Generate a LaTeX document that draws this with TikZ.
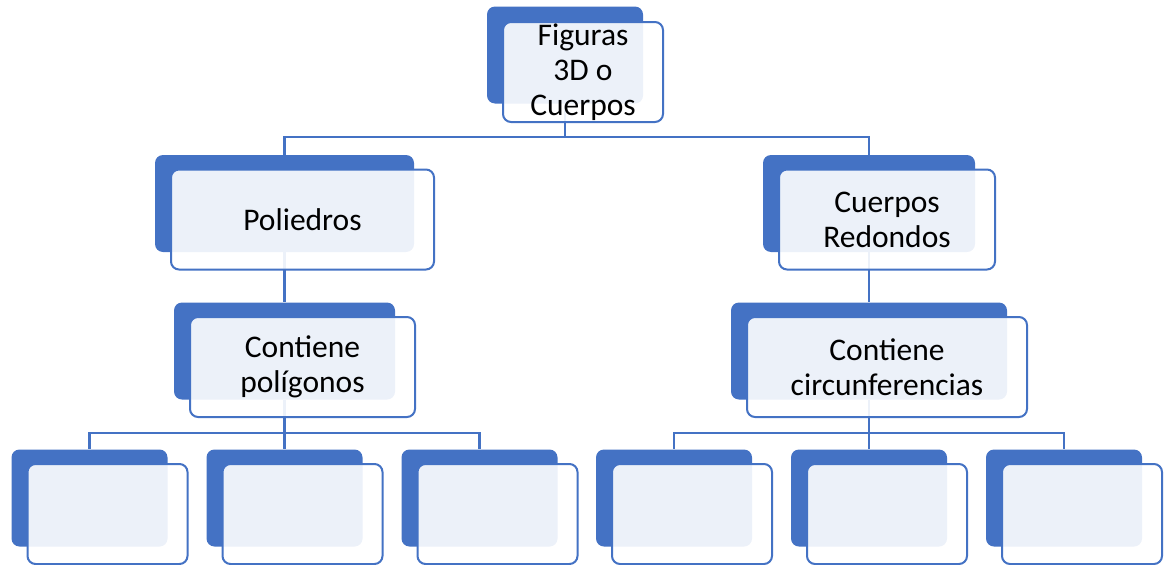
\documentclass[tikz,border=0pt]{standalone}
\usepackage{fontspec}
\setmainfont{Carlito}
\usetikzlibrary{backgrounds}
\definecolor{smartBlue}{HTML}{4472C4}

\begin{document}
\begin{tikzpicture}[x=1pt,y=-1pt]
		\useasboundingbox (0,0) rectangle (1165,565);
		\begin{scope}
			[
				styleBack/.style={
					minimum width = #1, minimum height = 97pt,
					inner sep = 0pt, fill = smartBlue,
					rounded corners = 8pt
					},
				styleFront/.style={
					minimum width = #1, minimum height = 100pt,
					inner sep = 0pt, draw = smartBlue, line width = 2pt,
					fill = white, fill opacity = 0.9, text opacity = 1,
					rounded corners = 8pt, align = center,
					font = \fontsize{31.5}{35}\selectfont
					},
			]
			\node(figB)[styleBack=156pt] at (565,55) {};
			\node(fig)[styleFront=160pt] at (583,72) {Figuras\\3D o\\Cuerpos};

			\node(polB)[styleBack=259pt] at (284.5,203.5) {};
			\node(pol)[styleFront=263pt] at (302.5,219.5) {Poliedros};
			\node(redB)[styleBack=212pt] at (869,203.5) {};
			\node(red)[styleFront=216pt] at (887,219.5) {Cuerpos\\Redondos};

			\node(conPB)[styleBack=221pt] at (284.5,351) {};
			\node(conP)[styleFront=225pt] at (302.5,367) {Contiene\\polígonos};
			\node(conCB)[styleBack=276pt] at (869,351) {};
			\node(conC)[styleFront=280pt] at (887,367) {Contiene\\circunferencias};

			% empty boxes of the last row
			\foreach \x/\name in {89.5/hojaA, 284.5/hojaB, 479.5/hojaC, 674/hojaD, 869/hojaE, 1064/hojaF}{
				\node(\name B)[styleBack=156pt] at (\x,498) {};
				\node(\name)[styleFront=160pt] at (\x+18,514) {};
			}

			\coordinate(busTop) at (565,137);
			\coordinate(busL) at (284.5,433);
			\coordinate(busR) at (869,433);
		\end{scope}

		\begin{pgfonlayer}{background}
			\begin{scope}
				[ link/.style = {draw = smartBlue, line width = 2.5pt} ]
				\draw[link] (figB) -- (busTop) -| (polB);
				\draw[link] (busTop) -| (redB);
				\draw[link] (polB) -- (conPB);
				\draw[link] (redB) -- (conCB);

				\draw[link] (conPB) -- (busL) -| (hojaAB);
				\draw[link] (busL) -| (hojaBB);
				\draw[link] (busL) -| (hojaCB);
				\draw[link] (conCB) -- (busR) -| (hojaDB);
				\draw[link] (busR) -| (hojaEB);
				\draw[link] (busR) -| (hojaFB);
			\end{scope}
		\end{pgfonlayer}
	\end{tikzpicture}
\end{document}
